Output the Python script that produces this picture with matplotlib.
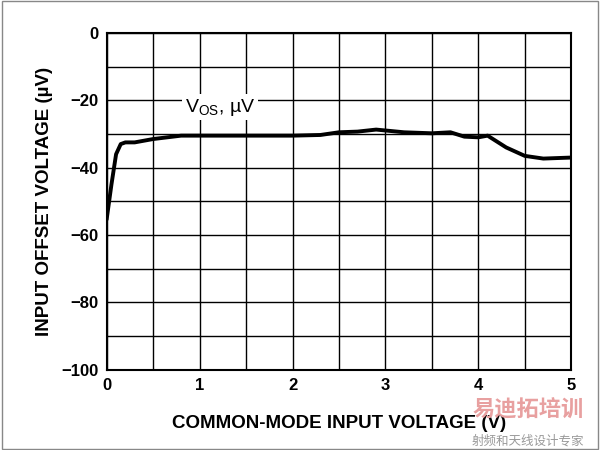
import matplotlib
matplotlib.use("Agg")
import matplotlib.pyplot as plt
from matplotlib.ticker import MultipleLocator

plt.rcParams['font.family'] = ['Liberation Sans', 'DejaVu Sans']

x_vals = [0, 0.05, 0.1, 0.15, 0.2, 0.3, 0.5, 0.8, 1.5, 2.0, 2.3, 2.5, 2.7, 2.9, 3.2, 3.5, 3.7, 3.85, 4.0, 4.1, 4.3, 4.5, 4.7, 5.0]
vos_vals = [-55, -45, -36, -33, -32.5, -32.5, -31.5, -30.5, -30.5, -30.5, -30.3, -29.5, -29.3, -28.7, -29.5, -29.8, -29.5, -30.8, -31, -30.5, -34, -36.5, -37.3, -37]

fig = plt.figure(figsize=(6, 4.5), dpi=100)
ax = fig.add_axes([0.178, 0.178, 0.774, 0.749])
ax.plot(x_vals, vos_vals, color='black', lw=2.8)
ax.set_xlim(0, 5)
ax.set_ylim(-100, 0)
ax.xaxis.set_major_locator(MultipleLocator(1))
ax.xaxis.set_minor_locator(MultipleLocator(0.5))
ax.yaxis.set_major_locator(MultipleLocator(20))
ax.yaxis.set_minor_locator(MultipleLocator(10))
ax.grid(True, which='both', color='black', lw=1)
ax.tick_params(which='both', length=0, labelsize=12, pad=6)
for s in ax.spines.values():
    s.set_linewidth(1.5)
for t in ax.get_xticklabels() + ax.get_yticklabels():
    t.set_fontweight('bold')
ax.set_xlabel('COMMON-MODE INPUT VOLTAGE (V)', fontsize=13.5, fontweight='bold', labelpad=16)
ax.set_ylabel('INPUT OFFSET VOLTAGE (µV)', fontsize=13.5, fontweight='bold', labelpad=6)
ax.text(1.22, -22, r'V$_{\mathregular{OS}}$, µV', fontsize=14, ha='center', va='center',
        bbox=dict(facecolor='white', edgecolor='none', pad=2))
fig.text(0.88, 0.075, '易迪拓培训', family=['Noto Sans CJK SC', 'DejaVu Sans'], fontsize=16,
         color='#e8a0a0', ha='center', fontweight='bold')
fig.text(0.88, 0.012, '射频和天线设计专家', family=['Noto Sans CJK SC', 'DejaVu Sans'], fontsize=9,
         color='#999999', ha='center')
fig.patches.append(plt.Rectangle((0.003, 0.003), 0.994, 0.994, transform=fig.transFigure,
                                 fill=False, edgecolor='#888888', lw=1))
fig.savefig('out.png')
